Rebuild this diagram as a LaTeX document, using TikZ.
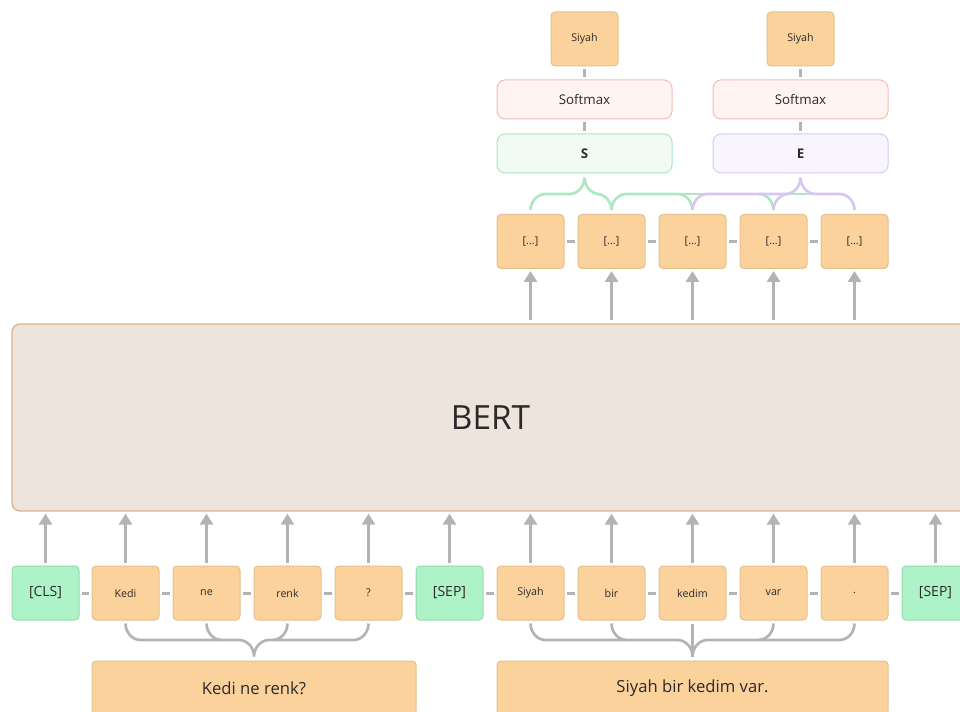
\documentclass[tikz,border=0pt]{standalone}
\usepackage{fontspec}
\setmainfont{Open Sans}
\usetikzlibrary{arrows.meta,calc}

\definecolor{ink}{HTML}{2A2A2A}
\definecolor{tokfill}{HTML}{FBD19C}
\definecolor{tokline}{HTML}{E3C08F}
\definecolor{spfill}{HTML}{AEF2C8}
\definecolor{spline}{HTML}{98D9AF}
\definecolor{bertfill}{HTML}{EDE4DB}
\definecolor{bertline}{HTML}{D9B38C}
\definecolor{smfill}{HTML}{FFF4F2}
\definecolor{smline}{HTML}{F2BDB5}
\definecolor{sfill}{HTML}{F1FBF4}
\definecolor{sline}{HTML}{ABE6C1}
\definecolor{efill}{HTML}{F8F5FE}
\definecolor{eline}{HTML}{D8C8F4}
\definecolor{conn}{HTML}{B3B3B3}
\definecolor{sbr}{HTML}{ACE9C2}
\definecolor{ebr}{HTML}{D7C6F4}

\begin{document}
\begin{tikzpicture}[x=0.75pt,y=-0.75pt,
  box/.style={draw, rounded corners=3pt, line width=0.75pt, inner sep=0pt, text=ink},
  tok/.style={box, fill=tokfill, draw=tokline, minimum width=50.25pt, minimum height=40.5pt,
    font=\fontsize{8}{10}\selectfont},
  special/.style={tok, fill=spfill, draw=spline, font=\fontsize{10.5}{12}\selectfont},
  wide/.style={box, rounded corners=6pt, minimum width=131.25pt, minimum height=29.25pt,
    font=\fontsize{10}{12}\selectfont},
  sentence/.style={tok, minimum height=40.5pt, font=\fontsize{12.5}{15}\selectfont},
  arrow/.style={draw=conn, line width=2.25pt, -{Triangle[width=9.75pt,length=8.25pt]},
    shorten <=2.25pt, shorten >=1.5pt},
  link/.style={draw=conn, line width=2.25pt, shorten <=1.9pt, shorten >=1.9pt},
  brace/.style={draw=conn, line width=2pt},
  sbrace/.style={draw=sbr, line width=2pt},
  ebrace/.style={draw=ebr, line width=2pt}]

\useasboundingbox (0,0) rectangle (960,712);
\clip (0,0) rectangle (960,712);

% encoder block
\node[box, fill=bertfill, draw=bertline, rounded corners=6pt, line width=1pt,
  minimum width=717.75pt, minimum height=140.25pt,
  font=\fontsize{25}{30}\selectfont] (bert) at (490.5,417.5) {BERT};

% input tokens
\node[special] (cls)  at (45.5,593)  {[CLS]};
\node[tok]     (q1)   at (125.5,593) {Kedi};
\node[tok]     (q2)   at (206.5,593) {ne};
\node[tok]     (q3)   at (287.5,593) {renk};
\node[tok]     (q4)   at (368.5,593) {?};
\node[special] (sep1) at (449.5,593) {[SEP]};
\node[tok]     (c1)   at (530.5,593) {Siyah};
\node[tok]     (c2)   at (611.5,593) {bir};
\node[tok]     (c3)   at (692.5,593) {kedim};
\node[tok]     (c4)   at (773.5,593) {var};
\node[tok]     (c5)   at (854.5,593) {.};
\node[special] (sep2) at (935.5,593) {[SEP]};

% input sentences
\node[sentence, minimum width=243pt]    (qbox) at (254,688)   {Kedi ne renk?};
\node[sentence, minimum width=293.25pt] (cbox) at (692.5,688) {Siyah bir kedim var.};

% output vectors
\node[tok] (h1) at (530.5,241.5) {[...]};
\node[tok] (h2) at (611.5,241.5) {[...]};
\node[tok] (h3) at (692.5,241.5) {[...]};
\node[tok] (h4) at (773.5,241.5) {[...]};
\node[tok] (h5) at (854.5,241.5) {[...]};

% start / end heads
\node[wide, fill=sfill, draw=sline, font=\fontsize{10}{12}\selectfont\bfseries] (S) at (584.5,153.5) {S};
\node[wide, fill=efill, draw=eline, font=\fontsize{10}{12}\selectfont\bfseries] (E) at (800.5,153.5) {E};
\node[wide, fill=smfill, draw=smline] (sm1) at (584.5,99.5) {Softmax};
\node[wide, fill=smfill, draw=smline] (sm2) at (800.5,99.5) {Softmax};
\node[tok] (a1) at (584.5,39) {Siyah};
\node[tok] (a2) at (800.5,39) {Siyah};

% links between neighbouring tokens
\foreach \a/\b in {cls/q1,q1/q2,q2/q3,q3/q4,q4/sep1,sep1/c1,c1/c2,c2/c3,c3/c4,c4/c5,c5/sep2,
                   h1/h2,h2/h3,h3/h4,h4/h5}
  \draw[link] (\a.east) -- (\b.west);
\draw[link] (a1) -- (sm1);
\draw[link] (sm1) -- (S);
\draw[link] (a2) -- (sm2);
\draw[link] (sm2) -- (E);

% tokens into the encoder
\foreach \t in {cls,q1,q2,q3,q4,sep1,c1,c2,c3,c4,c5,sep2}
  \draw[arrow] (\t.north) -- (\t.north |- bert.south);
% encoder to output vectors
\foreach \t in {h1,h2,h3,h4,h5}
  \draw[arrow] (\t.south |- bert.north) -- (\t.south);

% question brace
\draw[brace] ([yshift=-2.25pt]q1.south) .. controls (125.5,632.4) and (132.3,640) .. (140.5,640) -- (239,640)
  .. controls (247.3,640) and (254,647.6) .. ([yshift=3pt]qbox.north)
  .. controls (254,647.6) and (260.8,640) .. (269,640) -- (353.5,640)
  .. controls (361.8,640) and (368.5,632.4) .. ([yshift=-2.25pt]q4.south);
\draw[brace] ([yshift=-2.25pt]q2.south) .. controls (206.5,632.4) and (213.3,640) .. (221.5,640);
\draw[brace] ([yshift=-2.25pt]q3.south) .. controls (287.5,632.4) and (280.8,640) .. (272.5,640);

% context brace
\draw[brace] ([yshift=-2.25pt]c1.south) .. controls (530.5,632.4) and (537.3,640) .. (545.5,640) -- (677.5,640)
  .. controls (685.8,640) and (692.5,647.6) .. ([yshift=3pt]cbox.north)
  .. controls (692.5,647.6) and (699.3,640) .. (707.5,640) -- (839.5,640)
  .. controls (847.8,640) and (854.5,632.4) .. ([yshift=-2.25pt]c5.south);
\draw[brace] ([yshift=-2.25pt]c2.south) .. controls (611.5,632.4) and (618.3,640) .. (626.5,640);
\draw[brace] ([yshift=-2.25pt]c4.south) .. controls (773.5,632.4) and (766.8,640) .. (758.5,640);
\draw[brace] ([yshift=-2.25pt]c3.south) -- ([yshift=3pt]cbox.north);

% start brace
\draw[sbrace] (626.5,194) -- (812,194);
\draw[sbrace] ([yshift=3pt]h1.north) .. controls (530.5,201.6) and (537.3,194) .. (545.5,194) -- (569.5,194)
  .. controls (577.8,194) and (584.5,186.4) .. ([yshift=-3pt]S.south)
  .. controls (584.5,186.4) and (591.3,194) .. (599.5,194) -- (596.5,194)
  .. controls (604.8,194) and (611.5,201.6) .. ([yshift=3pt]h2.north)
  .. controls (611.5,201.6) and (618.3,194) .. (626.5,194) -- (677.5,194)
  .. controls (685.8,194) and (692.5,201.6) .. ([yshift=3pt]h3.north);
\draw[sbrace] (758.5,194) .. controls (766.8,194) and (773.5,201.6) .. ([yshift=3pt]h4.north);

% end brace
\draw[ebrace] ([yshift=3pt]h3.north) .. controls (692.5,201.6) and (699.3,194) .. (707.5,194) -- (785.5,194)
  .. controls (793.8,194) and (800.5,186.4) .. ([yshift=-3pt]E.south)
  .. controls (800.5,186.4) and (807.3,194) .. (815.5,194) -- (839.5,194)
  .. controls (847.8,194) and (854.5,201.6) .. ([yshift=3pt]h5.north);
\draw[ebrace] ([yshift=3pt]h4.north) .. controls (773.5,201.6) and (780.3,194) .. (788.5,194);

\end{tikzpicture}
\end{document}
